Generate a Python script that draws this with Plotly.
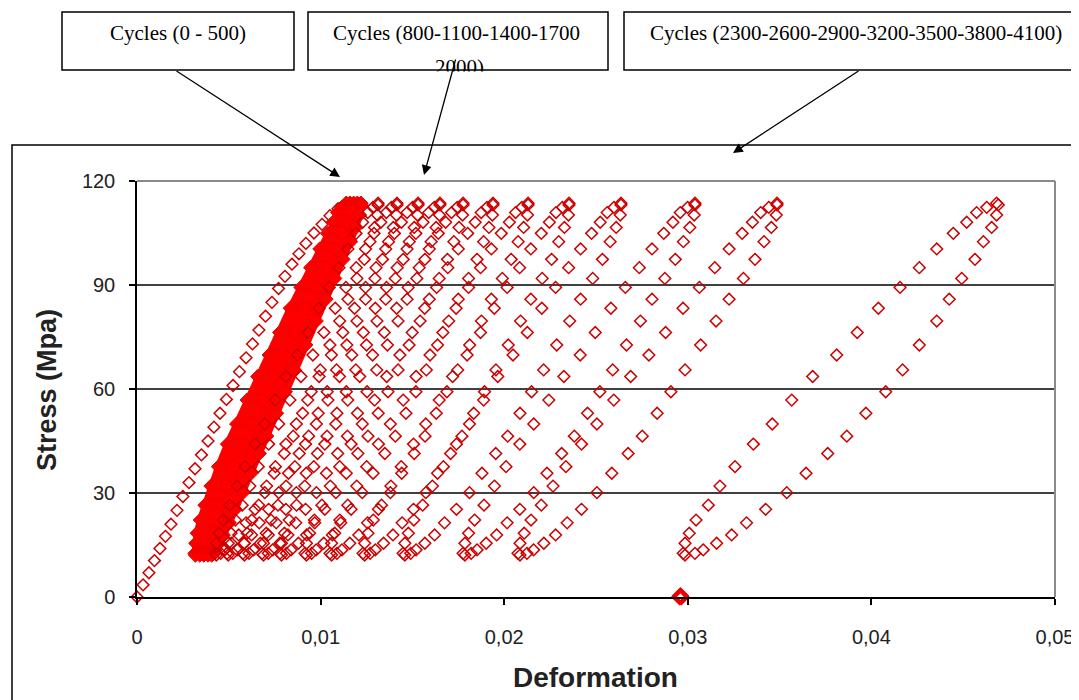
import plotly.graph_objects as go

# ---------------- data (strain values in per mille, stress in MPa) ----------------
LOAD_STRESS = [12.6, 15.5, 18.4, 22.2, 26.5, 32.0, 37.6, 44.1, 49.9, 56.8, 63.6, 69.8,
               76.3, 83.3, 89.3, 95.0, 100.4, 104.9, 108.1, 110.9, 112.4, 113.6]
UNLOAD_STRESS = [113.1, 110.2, 106.6, 102.5, 97.4, 91.9, 85.9, 79.6, 72.7, 65.5, 59.2, 53.0,
                 46.4, 41.4, 35.7, 30.1, 25.3, 21.4, 17.9, 15.5, 13.6, 12.6, 12.1]

INITIAL_STRESS = [0, 3.5, 7, 10.5, 14, 17.5, 21, 25, 29, 33, 37, 41, 45, 49, 53, 57, 61, 65,
                  69, 73, 77, 81, 85, 89, 92.5, 96, 99, 102, 105, 107.5, 110, 112, 113.5]
INITIAL_STRAIN = [0, 0.33, 0.65, 0.95, 1.25, 1.55, 1.85, 2.18, 2.50, 2.83, 3.16, 3.51, 3.87,
                  4.19, 4.52, 4.87, 5.23, 5.58, 5.94, 6.29, 6.64, 7.00, 7.35, 7.71, 8.06, 8.44,
                  8.82, 9.20, 9.64, 10.08, 10.51, 10.95, 11.38]

# cycles 100 - 500
C100_LOAD = [3.16, 3.20, 3.28, 3.45, 3.70, 4.03, 4.44, 4.93, 5.43, 6.00, 6.58, 7.20, 7.77, 8.35, 8.93, 9.46, 9.96, 10.37, 10.68, 10.93, 11.16, 11.40]
C100_UNLOAD = [11.40, 11.32, 11.11, 10.82, 10.41, 9.96, 9.46, 8.93, 8.35, 7.73, 7.24, 6.74, 6.21, 5.80, 5.34, 4.89, 4.48, 4.15, 3.82, 3.57, 3.37, 3.24, 3.18]
C200_LOAD = [3.40, 3.44, 3.52, 3.69, 3.93, 4.26, 4.67, 5.16, 5.66, 6.23, 6.80, 7.42, 7.99, 8.57, 9.14, 9.67, 10.17, 10.58, 10.88, 11.13, 11.36, 11.60]
C200_UNLOAD = [11.60, 11.52, 11.31, 11.03, 10.62, 10.17, 9.67, 9.14, 8.57, 7.95, 7.46, 6.97, 6.43, 6.02, 5.57, 5.12, 4.71, 4.38, 4.06, 3.81, 3.61, 3.48, 3.42]
C300_LOAD = [3.62, 3.66, 3.74, 3.91, 4.15, 4.48, 4.89, 5.38, 5.87, 6.44, 7.02, 7.63, 8.20, 8.77, 9.35, 9.88, 10.37, 10.78, 11.08, 11.33, 11.56, 11.80]
C300_UNLOAD = [11.80, 11.72, 11.51, 11.23, 10.82, 10.37, 9.88, 9.35, 8.77, 8.16, 7.67, 7.18, 6.65, 6.24, 5.79, 5.34, 4.93, 4.60, 4.27, 4.03, 3.83, 3.70, 3.64]
C400_LOAD = [3.85, 3.89, 3.97, 4.14, 4.38, 4.71, 5.11, 5.60, 6.09, 6.66, 7.23, 7.84, 8.41, 8.99, 9.56, 10.09, 10.57, 10.98, 11.28, 11.54, 11.76, 12.00]
C400_UNLOAD = [12.00, 11.92, 11.72, 11.43, 11.02, 10.57, 10.09, 9.56, 8.99, 8.37, 7.88, 7.40, 6.87, 6.46, 6.01, 5.56, 5.15, 4.83, 4.50, 4.26, 4.05, 3.93, 3.87]
C500_LOAD = [4.05, 4.09, 4.17, 4.34, 4.58, 4.91, 5.31, 5.80, 6.29, 6.86, 7.43, 8.04, 8.61, 9.19, 9.76, 10.29, 10.77, 11.18, 11.48, 11.74, 11.96, 12.20]
C500_UNLOAD = [12.20, 12.12, 11.92, 11.63, 11.22, 10.77, 10.29, 9.76, 9.19, 8.57, 8.08, 7.60, 7.07, 6.66, 6.21, 5.76, 5.35, 5.03, 4.70, 4.46, 4.25, 4.13, 4.07]

# cycles 800 - 2000
C800_LOAD = [4.25, 4.32, 4.46, 4.69, 5.05, 5.45, 5.89, 6.43, 6.96, 7.54, 8.11, 8.73, 9.31, 9.91, 10.47, 11.00, 11.49, 11.93, 12.29, 12.57, 12.85, 13.13]
C800_UNLOAD = [13.13, 13.10, 12.94, 12.69, 12.38, 11.98, 11.49, 11.04, 10.51, 9.98, 9.49, 9.02, 8.51, 8.02, 7.47, 6.96, 6.43, 5.94, 5.54, 5.14, 4.78, 4.56, 4.32]
C1100_LOAD = [4.90, 4.97, 5.12, 5.36, 5.73, 6.15, 6.61, 7.17, 7.72, 8.33, 8.93, 9.58, 10.18, 10.80, 11.38, 11.94, 12.45, 12.91, 13.28, 13.58, 13.86, 14.16]
C1100_UNLOAD = [14.16, 14.13, 13.96, 13.70, 13.37, 12.96, 12.45, 11.98, 11.43, 10.87, 10.36, 9.87, 9.35, 8.84, 8.25, 7.72, 7.17, 6.66, 6.24, 5.83, 5.46, 5.22, 4.97]
C1400_LOAD = [5.77, 5.85, 6.00, 6.25, 6.63, 7.06, 7.54, 8.11, 8.68, 9.30, 9.92, 10.59, 11.21, 11.85, 12.45, 13.02, 13.55, 14.02, 14.40, 14.71, 15.01, 15.31]
C1400_UNLOAD = [15.31, 15.28, 15.10, 14.83, 14.50, 14.07, 13.55, 13.07, 12.50, 11.92, 11.40, 10.89, 10.35, 9.83, 9.22, 8.68, 8.11, 7.58, 7.15, 6.72, 6.34, 6.10, 5.85]
C1700_LOAD = [6.81, 6.89, 7.04, 7.30, 7.68, 8.12, 8.60, 9.18, 9.77, 10.40, 11.03, 11.70, 12.33, 12.98, 13.59, 14.17, 14.71, 15.19, 15.58, 15.89, 16.19, 16.50]
C1700_UNLOAD = [16.50, 16.47, 16.29, 16.02, 15.68, 15.24, 14.71, 14.22, 13.64, 13.06, 12.53, 12.01, 11.46, 10.93, 10.32, 9.77, 9.18, 8.65, 8.22, 7.78, 7.39, 7.15, 6.89]
C2000_LOAD = [7.79, 7.87, 8.03, 8.29, 8.69, 9.14, 9.63, 10.23, 10.83, 11.48, 12.13, 12.83, 13.47, 14.14, 14.77, 15.37, 15.92, 16.41, 16.81, 17.13, 17.44, 17.76]
C2000_UNLOAD = [17.76, 17.73, 17.54, 17.26, 16.91, 16.46, 15.92, 15.42, 14.82, 14.22, 13.67, 13.14, 12.58, 12.03, 11.40, 10.83, 10.23, 9.68, 9.24, 8.79, 8.39, 8.14, 7.87]

# cycles 2300 - 4100
C2300_LOAD = [9.15, 9.23, 9.40, 9.66, 10.07, 10.53, 11.04, 11.66, 12.27, 12.94, 13.60, 14.32, 14.99, 15.67, 16.32, 16.93, 17.50, 18.01, 18.42, 18.75, 19.06, 19.39]
C2300_UNLOAD = [19.39, 19.36, 19.17, 18.88, 18.52, 18.06, 17.50, 16.98, 16.37, 15.76, 15.19, 14.65, 14.07, 13.50, 12.86, 12.27, 11.66, 11.10, 10.64, 10.17, 9.76, 9.51, 9.23]
C2600_LOAD = [10.51, 10.60, 10.77, 11.05, 11.48, 11.97, 12.51, 13.15, 13.80, 14.50, 15.20, 15.96, 16.66, 17.38, 18.06, 18.71, 19.30, 19.84, 20.28, 20.62, 20.96, 21.30]
C2600_UNLOAD = [21.30, 21.27, 21.06, 20.76, 20.38, 19.90, 19.30, 18.76, 18.12, 17.47, 16.88, 16.30, 15.69, 15.10, 14.42, 13.80, 13.15, 12.56, 12.08, 11.59, 11.16, 10.89, 10.60]
C2900_LOAD = [12.31, 12.40, 12.58, 12.87, 13.32, 13.83, 14.39, 15.06, 15.73, 16.46, 17.19, 17.98, 18.71, 19.46, 20.16, 20.84, 21.45, 22.02, 22.46, 22.82, 23.17, 23.53]
C2900_UNLOAD = [23.53, 23.50, 23.28, 22.97, 22.58, 22.07, 21.45, 20.89, 20.22, 19.55, 18.93, 18.34, 17.70, 17.08, 16.37, 15.73, 15.06, 14.44, 13.94, 13.43, 12.98, 12.70, 12.40]
C3200_LOAD = [14.49, 14.59, 14.78, 15.08, 15.56, 16.09, 16.69, 17.40, 18.11, 18.88, 19.65, 20.48, 21.26, 22.05, 22.80, 23.51, 24.16, 24.76, 25.23, 25.61, 25.98, 26.36]
C3200_UNLOAD = [26.36, 26.32, 26.10, 25.77, 25.35, 24.82, 24.16, 23.57, 22.86, 22.15, 21.49, 20.86, 20.19, 19.54, 18.79, 18.11, 17.40, 16.75, 16.21, 15.68, 15.20, 14.91, 14.59]
C3500_LOAD = [17.76, 17.86, 18.06, 18.39, 18.90, 19.47, 20.10, 20.85, 21.61, 22.43, 23.25, 24.14, 24.96, 25.81, 26.60, 27.36, 28.05, 28.69, 29.19, 29.59, 29.99, 30.39]
C3500_UNLOAD = [30.39, 30.35, 30.11, 29.76, 29.32, 28.75, 28.05, 27.42, 26.66, 25.91, 25.21, 24.54, 23.82, 23.13, 22.33, 21.61, 20.85, 20.16, 19.59, 19.02, 18.52, 18.20, 17.86]
C3800_LOAD = [20.75, 20.86, 21.09, 21.46, 22.02, 22.66, 23.36, 24.21, 25.05, 25.97, 26.89, 27.88, 28.79, 29.74, 30.63, 31.47, 32.25, 32.96, 33.52, 33.97, 34.41, 34.86]
C3800_UNLOAD = [34.86, 34.82, 34.55, 34.15, 33.66, 33.03, 32.25, 31.54, 30.70, 29.85, 29.08, 28.33, 27.52, 26.75, 25.86, 25.05, 24.21, 23.43, 22.80, 22.16, 21.60, 21.24, 20.86]
C4100_LOAD = [29.75, 29.85, 30.08, 30.45, 31.12, 31.75, 32.57, 33.57, 34.60, 35.66, 36.80, 38.11, 39.23, 40.38, 41.56, 42.61, 43.56, 44.46, 45.19, 45.73, 46.28, 46.82]
C4100_UNLOAD = [46.91, 46.82, 46.55, 46.10, 45.64, 44.92, 44.24, 43.56, 42.61, 41.70, 40.78, 39.70, 38.66, 37.62, 36.44, 35.39, 34.24, 33.20, 32.39, 31.57, 30.84, 30.39, 29.85]

FINAL_STRESS = [0.0, 0.0, 0.4]
FINAL_STRAIN = [29.55, 29.65, 29.60]

X_TICKS = [0, 0.01, 0.02, 0.03, 0.04, 0.05]
X_TICK_LABELS = ["0", "0,01", "0,02", "0,03", "0,04", "0,05"]
Y_TICKS = [0, 30, 60, 90, 120]
Y_TICK_LABELS = ["0", "30", "60", "90", "120"]
X_TITLE = "Deformation"
Y_TITLE = "Stress (Mpa)"
BOX_LABELS = ["Cycles (0 - 500)", "Cycles (800-1100-1400-1700", "2000)",
              "Cycles (2300-2600-2900-3200-3500-3800-4100)"]

DENSE_LOOPS = [
    (C100_LOAD, C100_UNLOAD), (C200_LOAD, C200_UNLOAD), (C300_LOAD, C300_UNLOAD),
    (C400_LOAD, C400_UNLOAD), (C500_LOAD, C500_UNLOAD),
]
LOOPS = [
    (C800_LOAD, C800_UNLOAD), (C1100_LOAD, C1100_UNLOAD), (C1400_LOAD, C1400_UNLOAD),
    (C1700_LOAD, C1700_UNLOAD), (C2000_LOAD, C2000_UNLOAD),
    (C2300_LOAD, C2300_UNLOAD), (C2600_LOAD, C2600_UNLOAD), (C2900_LOAD, C2900_UNLOAD),
    (C3200_LOAD, C3200_UNLOAD), (C3500_LOAD, C3500_UNLOAD), (C3800_LOAD, C3800_UNLOAD),
    (C4100_LOAD, C4100_UNLOAD),
]

# ---------------- figure ----------------
# the page body has an 8px margin, so the figure starts at screen (8, 8)
OFF = 8
W, H = 1079 - OFF, 700 - OFF
# plot area in screen pixels
SL, SR, ST, SB = 137, 1055, 181, 597


def fx(px):
    return (px - SL) / (SR - SL)


def fy(py):
    return (SB - py) / (SB - ST)


RED = "#cc0000"
hollow = dict(symbol="diamond-open", size=9, color=RED, line=dict(width=1.5, color=RED))
solid = dict(symbol="diamond", size=11, color="#ff0000", line=dict(width=1, color="#ee0000"))
thick = dict(symbol="diamond-open", size=10, color="#ee0000", line=dict(width=3, color="#ee0000"))

fig = go.Figure()


def add_series(strain_permille, stress, mk, dense=False):
    fig.add_trace(go.Scatter(
        x=[v / 1000 for v in strain_permille], y=stress,
        mode="lines+markers" if dense else "markers",
        line=dict(color="#ff0000", width=7) if dense else None,
        marker=mk, showlegend=False, cliponaxis=False, hoverinfo="skip"))


add_series(INITIAL_STRAIN, INITIAL_STRESS, hollow)
for load, unload in DENSE_LOOPS:
    add_series(load + unload, LOAD_STRESS + UNLOAD_STRESS, solid, dense=True)
for load, unload in LOOPS:
    add_series(load + unload, LOAD_STRESS + UNLOAD_STRESS, hollow)
add_series(FINAL_STRAIN, FINAL_STRESS, thick)

shapes = []
# outer chart frame
shapes.append(dict(type="rect", xref="paper", yref="paper", x0=fx(12), x1=fx(1095),
                   y0=fy(715), y1=fy(145), line=dict(color="black", width=1.5), layer="below"))
# horizontal gridlines
for v in Y_TICKS[1:-1]:
    shapes.append(dict(type="line", xref="paper", yref="y", x0=0, x1=1, y0=v, y1=v,
                       line=dict(color="black", width=1.5), layer="below"))
# grey top/right plot border
shapes.append(dict(type="line", xref="paper", yref="paper", x0=0, x1=1, y0=1, y1=1,
                   line=dict(color="#8a8a8a", width=2), layer="below"))
shapes.append(dict(type="line", xref="paper", yref="paper", x0=1, x1=1, y0=0, y1=1,
                   line=dict(color="#8a8a8a", width=2), layer="below"))
# label boxes
for (x0, x1) in [(62, 294), (308, 608), (624, 1095)]:
    shapes.append(dict(type="rect", xref="paper", yref="paper", x0=fx(x0), x1=fx(x1),
                       y0=fy(70), y1=fy(12), line=dict(color="black", width=1.5),
                       fillcolor="white", layer="above"))

serif = dict(family="Liberation Serif, Times New Roman, serif", size=21, color="black")


def label(text, sx, sy, **kw):
    d = dict(text=text, x=fx(sx), y=fy(sy), xref="paper", yref="paper", showarrow=False,
             xanchor="center", yanchor="middle")
    d.update(kw)
    return d


def arrow(head, tail):
    return dict(text="", x=fx(head[0]), y=fy(head[1]), xref="paper", yref="paper",
                showarrow=True, ax=tail[0] - head[0], ay=tail[1] - head[1], arrowhead=2,
                arrowsize=1.5, arrowwidth=1.3, arrowcolor="black")


annotations = [
    label(BOX_LABELS[0], 178, 33, font=serif),
    label(BOX_LABELS[1], 456, 33, font=serif),
    label(BOX_LABELS[2], 459, 67, font=serif),
    # white cover clipping the second line at the box border
    label(" ", 459, 82, bgcolor="white", width=90, height=18, font=dict(size=8)),
    label(BOX_LABELS[3], 856, 33, font=serif),
    arrow((340, 177), (175, 70)),
    arrow((424, 175), (456, 58)),
    arrow((733, 153), (860, 70)),
    label("<b>" + Y_TITLE + "</b>", 47, 390, textangle=-90,
          font=dict(family="Liberation Sans, Arial, sans-serif", size=27, color="#222222")),
    label("<b>" + X_TITLE + "</b>", 595, 677,
          font=dict(family="Liberation Sans, Arial, sans-serif", size=28, color="#222222")),
]

tickfont = dict(family="Liberation Sans, Arial, sans-serif", size=20, color="#222222")

fig.update_layout(
    template="none",
    width=W, height=H,
    margin=dict(l=SL - OFF, r=W - (SR - OFF), t=ST - OFF, b=H - (SB - OFF), pad=0),
    paper_bgcolor="white", plot_bgcolor="white",
    showlegend=False,
    shapes=shapes,
    annotations=annotations,
    xaxis=dict(range=[0, 0.05], tickvals=X_TICKS, ticktext=X_TICK_LABELS, showgrid=False,
               zeroline=False, showline=True, linecolor="black", linewidth=1.5,
               ticks="outside", ticklen=6, tickwidth=1.5, tickcolor="black",
               tickfont=tickfont, ticklabelstandoff=15, automargin=False, fixedrange=True),
    yaxis=dict(range=[0, 120], tickvals=Y_TICKS, ticktext=Y_TICK_LABELS, showgrid=False,
               zeroline=False, showline=True, linecolor="black", linewidth=1.5,
               ticks="outside", ticklen=6, tickwidth=1.5, tickcolor="black",
               tickfont=tickfont, ticklabelstandoff=10, automargin=False, fixedrange=True),
)

fig.write_html("out.html")
